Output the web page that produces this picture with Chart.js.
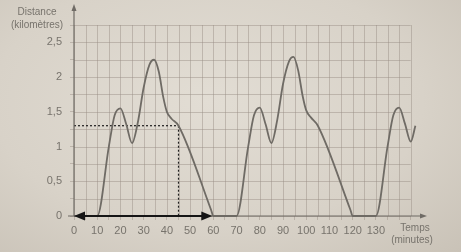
<!DOCTYPE html>
<html>
<head>
<meta charset="utf-8">
<script src="https://cdn.jsdelivr.net/npm/chart.js@4"></script>
<style>
    html, body { margin: 0; padding: 0; }
    body {
        width: 461px; height: 252px; overflow: hidden;
        background: radial-gradient(ellipse at 45% 40%, #e2ddd4 0%, #d8d2c8 60%, #c9c2b7 100%);
    }
    #wrap { position: relative; width: 461px; height: 252px; }
</style>
</head>
<body>
<div id="wrap"><canvas id="distanceChart" width="461" height="252"></canvas></div>
<script>
// Distance (km), time in minutes
const times = [0, 10, 15, 17.5, 20, 22.5, 25, 27.5, 30, 32.5, 34.5, 36.5, 38.5, 40, 42, 45, 59, 60,
    70, 75, 77.5, 80, 82.5, 85, 87.5, 90, 92.5, 94.5, 96.5, 98.5, 100, 102, 105, 119, 120,
    130, 135, 137.5, 140, 142.5, 145, 147];
const distances = [0, 0, 1.0, 1.45, 1.55, 1.32, 1.05, 1.35, 1.85, 2.18, 2.25, 2.08, 1.7, 1.5, 1.4, 1.3, 0.09, 0,
    0, 1.0, 1.45, 1.56, 1.32, 1.05, 1.38, 1.9, 2.22, 2.29, 2.1, 1.72, 1.52, 1.42, 1.3, 0.09, 0,
    0, 1.0, 1.45, 1.56, 1.33, 1.07, 1.3];

// Reading lines and the double arrow
const readTime = 45;
const readDistance = 1.3;
const arrowSpan = [0, 60];

const xTickLabels = [0, 10, 20, 30, 40, 50, 60, 70, 80, 90, 100, 110, 120, 130];
const yTickLabels = ['0', '0,5', '1', '1,5', '2', '2,5'];

// squared paper: 5 min by 0.25 km, up to 145 min and 2.75 km
const gridTimes = [0, 5, 10, 15, 20, 25, 30, 35, 40, 45, 50, 55, 60, 65, 70, 75, 80, 85, 90, 95,
    100, 105, 110, 115, 120, 125, 130, 135, 140, 145];
const gridDistances = [0, 0.25, 0.5, 0.75, 1, 1.25, 1.5, 1.75, 2, 2.25, 2.5, 2.75];

const inkGrey = '#6f6b65';
const labelGrey = '#77736c';
const gridColor = 'rgba(150, 140, 130, 0.45)';
const fontFamily = '"Liberation Sans", Arial, sans-serif';

const curve = times.map((t, i) => ({ x: t, y: distances[i] }));
const horizReading = [{ x: 0, y: readDistance }, { x: readTime, y: readDistance }];
const vertReading = [{ x: readTime, y: readDistance }, { x: readTime, y: 0 }];

// Squared paper drawn only over the printed area
const paperGrid = {
    id: 'paperGrid',
    beforeDatasetsDraw(chart) {
        const ctx = chart.ctx;
        const xs = chart.scales.x;
        const ys = chart.scales.y;
        const left = xs.getPixelForValue(gridTimes[0]);
        const right = xs.getPixelForValue(gridTimes[gridTimes.length - 1]);
        const bottom = ys.getPixelForValue(gridDistances[0]);
        const top = ys.getPixelForValue(gridDistances[gridDistances.length - 1]);
        ctx.save();
        ctx.strokeStyle = gridColor;
        ctx.lineWidth = 1;
        ctx.beginPath();
        gridTimes.forEach(t => {
            const px = Math.round(xs.getPixelForValue(t)) + 0.5;
            ctx.moveTo(px, top);
            ctx.lineTo(px, bottom);
        });
        gridDistances.forEach(d => {
            const py = Math.round(ys.getPixelForValue(d)) + 0.5;
            ctx.moveTo(left, py);
            ctx.lineTo(right, py);
        });
        ctx.stroke();
        ctx.restore();
    }
};

// Axes arrows, double arrow and axis titles
const decorations = {
    id: 'decorations',
    afterDatasetsDraw(chart) {
        const ctx = chart.ctx;
        const xs = chart.scales.x;
        const ys = chart.scales.y;
        const x0 = xs.getPixelForValue(0);
        const y0 = ys.getPixelForValue(0);

        ctx.save();
        // y axis with arrow
        ctx.strokeStyle = inkGrey;
        ctx.fillStyle = inkGrey;
        ctx.lineWidth = 1.2;
        ctx.beginPath();
        ctx.moveTo(x0, y0);
        ctx.lineTo(x0, 8);
        ctx.stroke();
        ctx.beginPath();
        ctx.moveTo(x0, 4);
        ctx.lineTo(x0 - 2.5, 11);
        ctx.lineTo(x0 + 2.5, 11);
        ctx.closePath();
        ctx.fill();
        // x axis with arrow
        const xEnd = xs.right;
        ctx.beginPath();
        ctx.moveTo(x0 - 6, y0);
        ctx.lineTo(xEnd - 4, y0);
        ctx.stroke();
        ctx.beginPath();
        ctx.moveTo(xEnd, y0);
        ctx.lineTo(xEnd - 7, y0 - 2.5);
        ctx.lineTo(xEnd - 7, y0 + 2.5);
        ctx.closePath();
        ctx.fill();

        // black double arrow along the time axis
        const a = xs.getPixelForValue(arrowSpan[0]);
        const b = xs.getPixelForValue(arrowSpan[1]);
        ctx.strokeStyle = '#151515';
        ctx.fillStyle = '#151515';
        ctx.lineWidth = 2;
        ctx.beginPath();
        ctx.moveTo(a + 8, y0);
        ctx.lineTo(b - 8, y0);
        ctx.stroke();
        ctx.beginPath();
        ctx.moveTo(a, y0);
        ctx.lineTo(a + 11, y0 - 4.5);
        ctx.lineTo(a + 11, y0 + 4.5);
        ctx.closePath();
        ctx.fill();
        ctx.beginPath();
        ctx.moveTo(b - 1, y0);
        ctx.lineTo(b - 12, y0 - 4.5);
        ctx.lineTo(b - 12, y0 + 4.5);
        ctx.closePath();
        ctx.fill();

        // titles
        ctx.fillStyle = labelGrey;
        ctx.font = '10px ' + fontFamily;
        ctx.textAlign = 'center';
        ctx.textBaseline = 'middle';
        ctx.fillText('Distance', 37, 12);
        ctx.fillText('(kilomètres)', 37, 25);
        ctx.fillText('Temps', 415, 228);
        ctx.fillText('(minutes)', 412, 240);
        ctx.restore();
    }
};

new Chart(document.getElementById('distanceChart'), {
    type: 'line',
    data: {
        datasets: [
            {
                data: curve,
                borderColor: inkGrey,
                borderWidth: 1.8,
                pointRadius: 0,
                cubicInterpolationMode: 'monotone',
                clip: false
            },
            {
                data: horizReading,
                borderColor: '#1e1e1e',
                borderWidth: 1.2,
                borderDash: [2, 2],
                pointRadius: 0
            },
            {
                data: vertReading,
                borderColor: '#1e1e1e',
                borderWidth: 1.2,
                borderDash: [2, 2],
                pointRadius: 0
            }
        ]
    },
    options: {
        responsive: false,
        animation: false,
        layout: { padding: { left: 0, top: 25, right: 34, bottom: 0 } },
        plugins: {
            legend: { display: false },
            tooltip: { enabled: false }
        },
        scales: {
            x: {
                type: 'linear',
                min: 0,
                max: 152,
                afterFit(scale) { scale.height = 36; },
                border: { display: false },
                grid: {
                    drawOnChartArea: false,
                    color: ctx => ctx.tick && ctx.tick.value <= 145 ? gridColor : 'transparent',
                    tickLength: 4
                },
                ticks: {
                    stepSize: 5,
                    autoSkip: false,
                    maxRotation: 0,
                    padding: 4,
                    color: labelGrey,
                    font: { family: fontFamily, size: 11 },
                    callback: v => xTickLabels.includes(v) ? String(v) : ''
                }
            },
            y: {
                min: 0,
                max: 2.75,
                afterFit(scale) { scale.width = 74; },
                border: { display: false },
                grid: { drawOnChartArea: false, color: gridColor, tickLength: 4 },
                ticks: {
                    stepSize: 0.25,
                    autoSkip: false,
                    padding: 8,
                    color: labelGrey,
                    font: { family: fontFamily, size: 11 },
                    callback: v => {
                        const k = Math.round(v * 2);
                        return Math.abs(v * 2 - k) < 1e-6 && k < yTickLabels.length ? yTickLabels[k] : '';
                    }
                }
            }
        }
    },
    plugins: [paperGrid, decorations]
});
</script>
</body>
</html>
